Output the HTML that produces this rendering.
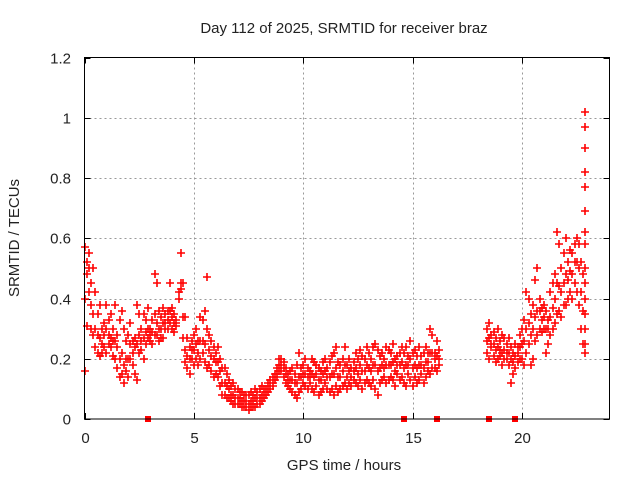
<!DOCTYPE html>
<html><head><meta charset="utf-8"><style>
body{margin:0;background:#fff;}
svg text{font-family:"Liberation Sans",sans-serif;font-size:15px;fill:#222;}
</style></head><body>
<svg id="chart" width="640" height="480" viewBox="0 0 640 480" xmlns="http://www.w3.org/2000/svg">
<rect width="640" height="480" fill="#fff"/>
<text x="344" y="33" text-anchor="middle">Day 112 of 2025, SRMTID for receiver braz</text>
<text x="344" y="470" text-anchor="middle">GPS time / hours</text>
<text transform="translate(19,238) rotate(-90)" text-anchor="middle">SRMTID / TECUs</text>
<g id="grid" shape-rendering="crispEdges"></g>
<g id="ticks"></g>
<g id="marks"></g>
<rect x="84.5" y="57.5" width="525" height="361.5" fill="none" stroke="#000" stroke-width="1" shape-rendering="crispEdges"/>
</svg>
<script>
const xTicks=[0,5,10,15,20];
const yTicks=[0,0.2,0.4,0.6,0.8,1,1.2];
const yTickLabels=["0","0.2","0.4","0.6","0.8","1","1.2"];
const seg1Start=0, seg2Start=18.4, stepH=0.1;
const seg1Upper=[0.57,0.52,0.55,0.45,0.50,0.42,0.35,0.38,0.30,0.32,
0.38,0.33,0.35,0.30,0.38,0.28,0.33,0.36,0.30,0.26,
0.28,0.32,0.26,0.27,0.38,0.35,0.30,0.35,0.33,0.37,
0.30,0.33,0.48,0.45,0.36,0.34,0.37,0.35,0.36,0.45,
0.37,0.35,0.33,0.42,0.55,0.45,0.34,0.27,0.24,0.26,
0.28,0.30,0.26,0.34,0.33,0.36,0.47,0.28,0.26,0.24,
0.22,0.24,0.20,0.17,0.17,0.15,0.13,0.11,0.12,0.10,
0.10,0.09,0.09,0.08,0.08,0.08,0.09,0.08,0.10,0.09,
0.10,0.11,0.10,0.10,0.12,0.13,0.14,0.15,0.17,0.20,
0.20,0.19,0.17,0.15,0.16,0.17,0.15,0.18,0.22,0.17,
0.18,0.20,0.17,0.16,0.20,0.19,0.18,0.17,0.16,0.19,
0.20,0.17,0.19,0.21,0.22,0.24,0.19,0.18,0.20,0.24,
0.18,0.20,0.17,0.19,0.22,0.20,0.23,0.21,0.20,0.24,
0.22,0.20,0.24,0.25,0.23,0.21,0.22,0.20,0.24,0.23,
0.22,0.25,0.20,0.21,0.22,0.24,0.22,0.24,0.21,0.26,
0.22,0.23,0.21,0.24,0.21,0.22,0.24,0.22,0.30,0.28,
0.22,0.26,0.23];
const seg1Mid=[0.40,0.48,0.50,0.38,0.35,0.30,0.28,0.27,0.25,0.28,
0.30,0.28,0.27,0.26,0.26,0.24,0.20,0.22,0.18,0.20,
0.20,0.25,0.22,0.24,0.25,0.28,0.26,0.27,0.29,0.30,
0.28,0.29,0.35,0.32,0.30,0.30,0.32,0.32,0.33,0.36,
0.34,0.32,0.32,0.42,0.45,0.34,0.23,0.21,0.20,0.23,
0.23,0.25,0.22,0.26,0.26,0.25,0.30,0.23,0.21,0.20,
0.19,0.19,0.16,0.12,0.12,0.11,0.10,0.08,0.08,0.07,
0.07,0.07,0.06,0.06,0.06,0.05,0.06,0.06,0.07,0.07,
0.07,0.08,0.08,0.09,0.10,0.11,0.12,0.14,0.15,0.18,
0.18,0.17,0.15,0.13,0.13,0.13,0.12,0.12,0.14,0.14,
0.15,0.15,0.14,0.14,0.15,0.14,0.15,0.13,0.13,0.15,
0.16,0.14,0.14,0.15,0.15,0.17,0.14,0.14,0.16,0.18,
0.14,0.16,0.14,0.16,0.17,0.15,0.18,0.16,0.16,0.18,
0.17,0.16,0.18,0.18,0.16,0.17,0.18,0.17,0.18,0.18,
0.18,0.19,0.16,0.18,0.18,0.19,0.17,0.18,0.18,0.20,
0.17,0.18,0.17,0.18,0.18,0.17,0.19,0.19,0.22,0.22,
0.20,0.21,0.20];
const seg1Lower=[0.16,0.31,0.42,0.30,0.28,0.24,0.22,0.21,0.22,0.24,
0.22,0.25,0.24,0.21,0.20,0.17,0.14,0.15,0.12,0.16,
0.14,0.20,0.18,0.15,0.13,0.22,0.23,0.20,0.25,0.27,
0.26,0.25,0.28,0.28,0.26,0.27,0.27,0.30,0.30,0.32,
0.30,0.29,0.31,0.40,0.43,0.27,0.19,0.17,0.15,0.20,
0.18,0.20,0.18,0.20,0.22,0.19,0.17,0.18,0.16,0.14,
0.15,0.14,0.11,0.08,0.08,0.07,0.07,0.06,0.05,0.05,
0.05,0.05,0.04,0.04,0.04,0.03,0.04,0.04,0.04,0.05,
0.05,0.06,0.07,0.08,0.09,0.10,0.11,0.13,0.14,0.16,
0.16,0.14,0.12,0.11,0.10,0.09,0.08,0.07,0.09,0.10,
0.12,0.11,0.10,0.12,0.10,0.09,0.11,0.08,0.09,0.10,
0.12,0.10,0.09,0.10,0.08,0.11,0.09,0.10,0.11,0.12,
0.10,0.12,0.11,0.13,0.12,0.11,0.13,0.10,0.12,0.13,
0.12,0.11,0.13,0.10,0.08,0.12,0.13,0.14,0.12,0.13,
0.14,0.13,0.11,0.15,0.13,0.14,0.12,0.11,0.15,0.13,
0.11,0.14,0.12,0.13,0.15,0.12,0.14,0.16,0.15,0.17,
0.17,0.16,0.18];
const seg2Upper=[0.30,0.32,0.28,0.29,0.27,0.30,0.26,0.28,0.27,0.25,
0.27,0.24,0.22,0.25,0.24,0.28,0.30,0.33,0.42,0.40,
0.35,0.38,0.46,0.50,0.40,0.37,0.38,0.36,0.33,0.42,
0.45,0.48,0.62,0.58,0.50,0.55,0.60,0.52,0.56,0.55,
0.58,0.60,0.58,0.52,0.48];
const seg2Mid=[0.26,0.27,0.25,0.25,0.23,0.24,0.23,0.22,0.23,0.22,
0.22,0.20,0.19,0.21,0.22,0.24,0.25,0.26,0.30,0.32,
0.28,0.30,0.34,0.36,0.36,0.33,0.34,0.30,0.30,0.34,
0.37,0.40,0.45,0.44,0.42,0.45,0.48,0.46,0.49,0.48,
0.52,0.52,0.50,0.42,0.36];
const seg2Lower=[0.22,0.20,0.24,0.21,0.19,0.20,0.21,0.18,0.20,0.20,
0.18,0.12,0.15,0.17,0.19,0.20,0.20,0.18,0.22,0.25,
0.18,0.20,0.26,0.28,0.30,0.29,0.30,0.22,0.25,0.28,
0.30,0.32,0.35,0.36,0.34,0.38,0.38,0.40,0.42,0.40,
0.45,0.42,0.38,0.30,0.25];
const spikeTime=22.9;
const spikeValues=[1.02,0.97,0.90,0.82,0.77,0.69,0.62,0.58,0.50,0.45,0.40,0.35,0.30,0.25,0.22];
const gapMarkers=[2.9,14.6,16.1,18.5,19.7];

const X0=84.5,X1=609.5,Y0=419,Y1=57.5;
const xs=h=>X0+h/24*(X1-X0);
const ys=v=>Y0-v/1.2*(Y0-Y1);
const NS="http://www.w3.org/2000/svg";
const grid=document.getElementById('grid'),ticks=document.getElementById('ticks'),marks=document.getElementById('marks');
function mk(tag,attrs,parent){const e=document.createElementNS(NS,tag);for(const k in attrs)e.setAttribute(k,attrs[k]);parent.appendChild(e);return e;}
xTicks.forEach(t=>{
  const x=Math.round(xs(t))+0.5;
  if(t>0){const g=mk('line',{x1:x,x2:x,y1:Y1,y2:Y0,stroke:'#999','stroke-dasharray':'2,3'},grid);
  
  }
  mk('line',{x1:x,x2:x,y1:Y0,y2:Y0-6,stroke:'#000','shape-rendering':'crispEdges'},ticks);
  mk('line',{x1:x,x2:x,y1:Y1,y2:Y1+6,stroke:'#000','shape-rendering':'crispEdges'},ticks);
  const tx=mk('text',{x:x,y:443,'text-anchor':'middle'},ticks);tx.textContent=t;
  
  
});
yTicks.forEach((t,i)=>{
  const y=Math.round(ys(t))+0.5;
  if(t>0&&t<1.2){const g=mk('line',{x1:X0,x2:X1,y1:y,y2:y,stroke:'#999','stroke-dasharray':'2,3'},grid);
  
  }
  mk('line',{x1:X0,x2:X0+6,y1:y,y2:y,stroke:'#000','shape-rendering':'crispEdges'},ticks);
  mk('line',{x1:X1-6,x2:X1,y1:y,y2:y,stroke:'#000','shape-rendering':'crispEdges'},ticks);
  const tx=mk('text',{x:71,y:y+5,'text-anchor':'end'},ticks);tx.textContent=yTickLabels[i];
  
  
});
let d='';
function plus(h,v){const x=Math.round(xs(h)),y=Math.round(ys(v));d+=`M${x-4} ${y}h8M${x} ${y-4}v8`;}
[seg1Upper,seg1Mid,seg1Lower].forEach(a=>a.forEach((v,i)=>plus(seg1Start+i*stepH,v)));
[seg2Upper,seg2Mid,seg2Lower].forEach(a=>a.forEach((v,i)=>plus(seg2Start+i*stepH,v)));
spikeValues.forEach(v=>plus(spikeTime,v));
const p=mk('path',{d:d,stroke:'#ff0000','stroke-width':1.6,fill:'none'},marks);


gapMarkers.forEach(h=>{
  const r=mk('rect',{x:Math.round(xs(h))-3,y:Y0-3,width:6,height:6,fill:'#f00'},marks);
  
  
});
</script>
</body></html>
